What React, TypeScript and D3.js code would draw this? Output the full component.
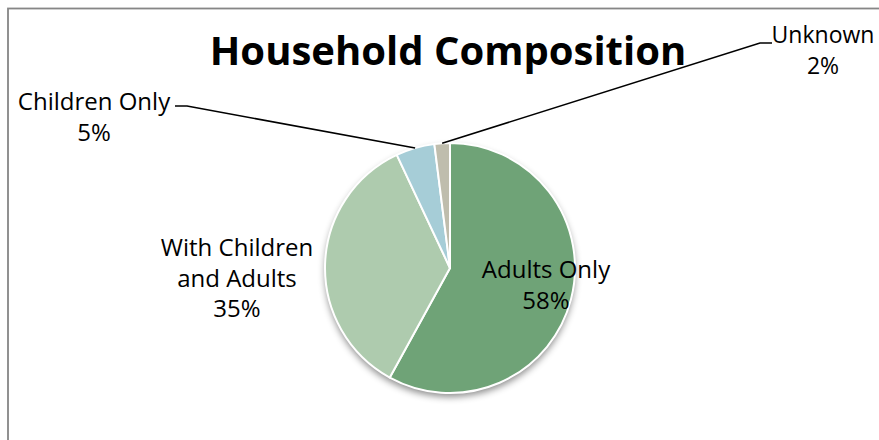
import React from "react";
import * as d3 from "d3";

const categories = ["Adults Only", "With Children and Adults", "Children Only", "Unknown"];
const values = [58, 35, 5, 2];
const percentLabels = ["58%", "35%", "5%", "2%"];
const titleText = "Household Composition";

export default function App() {
  const W = 879, H = 440;
  const cx = 450, cy = 268, r = 125;
  const colors = ["#6FA377", "#AECBAE", "#A6CDD7", "#BFBDAD"];
  const pie = d3.pie<number>().sort(null).value((d) => d)(values);
  const arc = d3.arc<d3.PieArcDatum<number>>().innerRadius(0).outerRadius(r);
  const font = "'Open Sans', 'Liberation Sans', sans-serif";
  const fs = 24;
  const lh = 30.5;

  const labelLines: string[][] = [
    ["Adults Only", percentLabels[0]],
    ["With Children", "and Adults", percentLabels[1]],
    [categories[2], percentLabels[2]],
    [categories[3], percentLabels[3]],
  ];
  const labelPos = [
    { x: 546, y: 278 },
    { x: 237, y: 256 },
    { x: 94, y: 110 },
    { x: 823, y: 43 },
  ];
  const labelSize = [fs, fs, fs, 23];
  const leader = (i: number, elbowX: number, endX: number, y: number) => {
    const a = (pie[i].startAngle + pie[i].endAngle) / 2;
    const px = cx + r * Math.sin(a);
    const py = cy - r * Math.cos(a);
    return `M${endX},${y}L${elbowX},${y}L${px},${py}`;
  };

  return (
    <svg width={W} height={H} style={{ position: "absolute", left: 0, top: 0, background: "#fff" }}>
      <defs>
        <filter id="sh" x="-20%" y="-20%" width="140%" height="150%">
          <feDropShadow dx="0" dy="4" stdDeviation="3.5" floodColor="#000" floodOpacity="0.45" />
        </filter>
      </defs>
      <rect x={0} y={0} width={W} height={H} fill="#fff" />
      <rect x={8} y={8.5} width={W + 50} height={H + 50} fill="none" stroke="#868686" strokeWidth={1.8} />
      <circle cx={cx} cy={cy} r={r} fill="#fff" filter="url(#sh)" />
      <g transform={`translate(${cx},${cy})`}>
        {pie.map((d, i) => (
          <path key={i} d={arc(d) || ""} fill={colors[i]} stroke="#fff" strokeWidth={2} strokeLinejoin="round" />
        ))}
      </g>
      <text x={448} y={65} textAnchor="middle" fontFamily={font} fontWeight="bold" fontSize={40} fill="#000">
        {titleText}
      </text>
      <path d={leader(2, 187, 175, 106)} fill="none" stroke="#000" strokeWidth={1.6} />
      <path d={leader(3, 760, 772, 43)} fill="none" stroke="#000" strokeWidth={1.6} />
      <g fontFamily={font} fill="#000" textAnchor="middle">
        {labelLines.map((lines, i) => (
          <text key={i} x={labelPos[i].x} y={labelPos[i].y} fontSize={labelSize[i]}>
            {lines.map((l, j) => (
              <tspan key={j} x={labelPos[i].x} y={labelPos[i].y + j * lh}>{l}</tspan>
            ))}
          </text>
        ))}
      </g>
    </svg>
  );
}
